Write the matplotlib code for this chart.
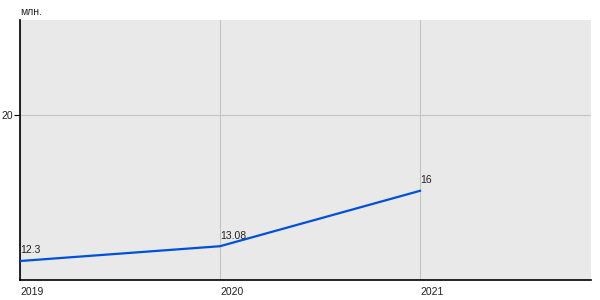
import matplotlib.pyplot as plt

years = [2019, 2020, 2021]
values = [12.3, 13.08, 16]
value_labels = ['12.3', '13.08', '16']
y_ticks = [20]

fig = plt.figure(figsize=(6, 3), dpi=100)
ax = fig.add_axes([20 / 600, 20 / 300, 571 / 600, 260 / 300])
ax.set_facecolor('#e9e9e9')

ax.plot(years, values, color='#0050e0', linewidth=1.6, zorder=3)
for x, y, s in zip(years, values, value_labels):
    ax.text(x, y + 0.3, s, fontsize=7.5, color='#222222', ha='left', va='bottom',
            family='Liberation Sans')

ax.set_xlim(2019, 2021.855)
ax.set_ylim(11.3, 25.0)
ax.set_xticks(years)
ax.set_xticklabels([str(y) for y in years])
ax.set_yticks(y_ticks)
ax.grid(True, color='#c4c4c4', linewidth=0.8)
ax.set_axisbelow(True)

for side in ['top', 'right']:
    ax.spines[side].set_visible(False)
for side in ['left', 'bottom']:
    ax.spines[side].set_linewidth(1.2)
    ax.spines[side].set_color('black')

ax.tick_params(axis='x', length=0, labelsize=7.5, pad=5, labelcolor='#222222')
ax.tick_params(axis='y', length=4, labelsize=7.5, pad=1, labelcolor='#222222')
for lbl in ax.get_xticklabels():
    lbl.set_horizontalalignment('left')
    lbl.set_family('Liberation Sans')
for lbl in ax.get_yticklabels():
    lbl.set_family('Liberation Sans')

fig.text(20 / 600, 1 - 12 / 300, 'млн.', fontsize=7.5, color='#222222',
         ha='left', va='center', family='Liberation Sans')

fig.savefig('out.png', dpi=100)
